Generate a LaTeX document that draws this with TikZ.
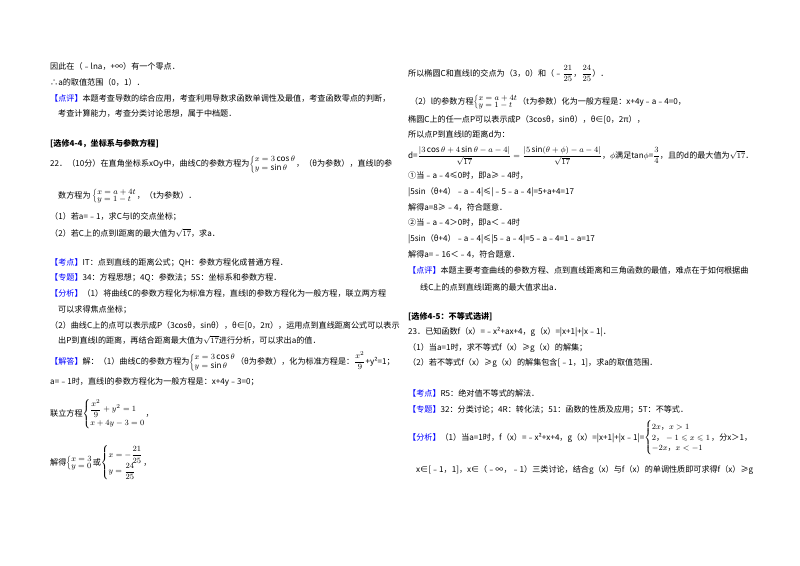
\documentclass[tikz,border=0pt]{standalone}
\usepackage{amsmath,amssymb}
\usepackage{fontspec}
\setmainfont{Noto Sans CJK SC}
\newcommand\tg[1]{\textcolor{blue}{【#1】}}
\newcommand\cs[1]{{\renewcommand\arraystretch{0.8}\(\scriptstyle\left\{\begin{array}{@{}l@{}}#1\end{array}\right.\)}}
\newcommand\csb[1]{{\renewcommand\arraystretch{1.2}\(\left\{\begin{array}{@{}l@{}}#1\end{array}\right.\)}}
\newcommand\cm{\text{，}}
\tikzset{t/.style={anchor=base west, inner sep=0, font=\fontsize{8.1}{9}\selectfont},
 hd/.style={t, font=\fontsize{8.1}{9}\selectfont\bfseries}}
\begin{document}
\begin{tikzpicture}[x=1pt,y=-1pt]
\useasboundingbox (0,0) rectangle (800,565);
% left column
\node[t] (l1) at (50,69) {因此在（﹣lna，+∞）有一个零点．};
\node[t] (l2) at (50,85) {∴a的取值范围（0，1）．};
\node[t] (l3) at (50,101) {\tg{点评}本题考查导数的综合应用，考查利用导数求函数单调性及最值，考查函数零点的判断，};
\node[t] (l4) at (58,116) {考查计算能力，考查分类讨论思想，属于中档题．};
\node[hd] (l5) at (50,146) {[选修4-4，坐标系与参数方程]};
\node[t] (l6) at (50,166) {22．（10分）在直角坐标系xOy中，曲线C的参数方程为\cs{x=3\cos\theta\\ y=\sin\theta}，（θ为参数），直线l的参};
\node[t] (l7) at (58,198) {数方程为 \cs{x=a+4t\\ y=1-t}，（t为参数）．};
\node[t] (l8) at (50,219) {（1）若a=﹣1，求C与l的交点坐标；};
\node[t] (l9) at (50,236) {（2）若C上的点到l距离的最大值为\(\sqrt{17}\)，求a．};
\node[t] (l10) at (50,265) {\tg{考点}IT：点到直线的距离公式；QH：参数方程化成普通方程．};
\node[t] (l11) at (50,280) {\tg{专题}34：方程思想；4Q：参数法；5S：坐标系和参数方程．};
\node[t] (l12) at (50,296) {\tg{分析}（1）将曲线C的参数方程化为标准方程，直线l的参数方程化为一般方程，联立两方程};
\node[t] (l13) at (58,312) {可以求得焦点坐标；};
\node[t] (l14) at (50,328) {（2）曲线C上的点可以表示成P（3cosθ，sinθ），θ∈[0，2π），运用点到直线距离公式可以表示};
\node[t] (l15) at (58,343) {出P到直线l的距离，再结合距离最大值为\(\sqrt{17}\)进行分析，可以求出a的值．};
\node[t] (l16) at (50,364) {\tg{解答}解：（1）曲线C的参数方程为\cs{x=3\cos\theta\\ y=\sin\theta}（θ为参数），化为标准方程是：\(\dfrac{x^2}{9}\)+y²=1；};
\node[t] (l17) at (50,384) {a=﹣1时，直线l的参数方程化为一般方程是：x+4y﹣3=0；};
\node[t] (l18) at (50,416) {联立方程\csb{\dfrac{x^2}{9}+y^2=1\\ x+4y-3=0}，};
\node[t] (l19) at (50,465) {解得\cs{x=3\\ y=0}或\csb{x=-\dfrac{21}{25}\\ y=\dfrac{24}{25}}，};
% right column
\node[t] (r1) at (408,76) {所以椭圆C和直线l的交点为（3，0）和（﹣\(\dfrac{21}{25}\)，\(\dfrac{24}{25}\)）．};
\node[t] (r2) at (410,104) {（2）l的参数方程\cs{x=a+4t\\ y=1-t}（t为参数）化为一般方程是：x+4y﹣a﹣4=0，};
\node[t] (r3) at (408,122) {椭圆C上的任一点P可以表示成P（3cosθ，sinθ），θ∈[0，2π），};
\node[t] (r4) at (408,137) {所以点P到直线l的距离d为：};
\node[t] (r5) at (408,158) {d=\(\dfrac{|3\cos\theta+4\sin\theta-a-4|}{\sqrt{17}}=\dfrac{|5\sin(\theta+\phi)-a-4|}{\sqrt{17}}\)，\(\phi\)满足tan\(\phi\)=\(\dfrac{3}{4}\)，且的d的最大值为\(\sqrt{17}\)．};
\node[t] (r6) at (408,178) {①当﹣a﹣4≤0时，即a≥﹣4时，};
\node[t] (r7) at (408,194) {|5sin（θ+4）﹣a﹣4|≤|﹣5﹣a﹣4|=5+a+4=17};
\node[t] (r8) at (408,210) {解得a=8≥﹣4，符合题意．};
\node[t] (r9) at (408,225) {②当﹣a﹣4＞0时，即a＜﹣4时};
\node[t] (r10) at (408,241) {|5sin（θ+4）﹣a﹣4|≤|5﹣a﹣4|=5﹣a﹣4=1﹣a=17};
\node[t] (r11) at (408,257) {解得a=﹣16＜﹣4，符合题意．};
\node[t] (r12) at (408,273) {\tg{点评}本题主要考查曲线的参数方程、点到直线距离和三角函数的最值，难点在于如何根据曲};
\node[t] (r13) at (420,290) {线C上的点到直线l距离的最大值求出a．};
\node[hd] (r14) at (408,319) {[选修4-5：不等式选讲]};
\node[t] (r15) at (408,334) {23．已知函数f（x）=﹣x²+ax+4，g（x）=|x+1|+|x﹣1|．};
\node[t] (r16) at (408,350) {（1）当a=1时，求不等式f（x）≥g（x）的解集；};
\node[t] (r17) at (408,365) {（2）若不等式f（x）≥g（x）的解集包含[﹣1，1]，求a的取值范围．};
\node[t] (r18) at (408,396) {\tg{考点}R5：绝对值不等式的解法．};
\node[t] (r19) at (408,412) {\tg{专题}32：分类讨论；4R：转化法；51：函数的性质及应用；5T：不等式．};
\node[t] (r20) at (408,440) {\tg{分析}（1）当a=1时，f（x）=﹣x²+x+4，g（x）=|x+1|+|x﹣1|=\csb{2x\cm x>1\\ 2\cm -1\leqslant x\leqslant 1\\ -2x\cm x<-1}，分x＞1，};
\node[t] (r21) at (416,472) {x∈[﹣1，1]，x∈（﹣∞，﹣1）三类讨论，结合g（x）与f（x）的单调性质即可求得f（x）≥g};
\end{tikzpicture}
\end{document}
